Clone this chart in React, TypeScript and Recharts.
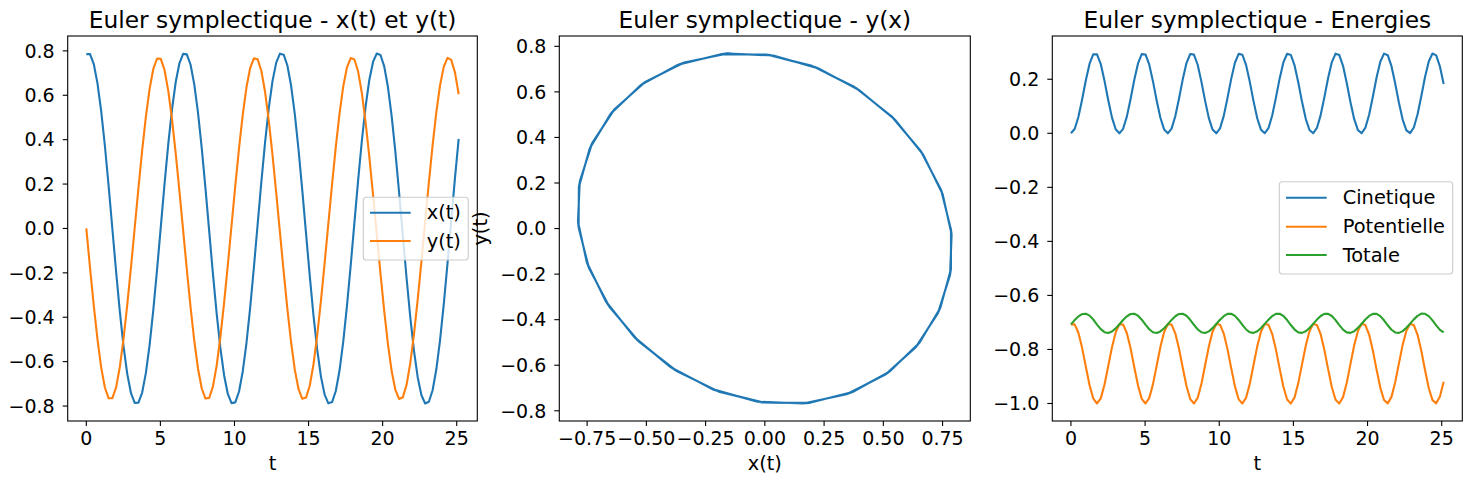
import { LineChart, Line, XAxis, YAxis } from "recharts";

const FONT = "DejaVu Sans";
const BLUE = "#1f77b4";
const ORANGE = "#ff7f0e";
const GREEN = "#2ca02c";

// time samples
const T = [
  0, 0.2513, 0.5027, 0.754, 1.0053, 1.2566, 1.508, 1.7593, 2.0106, 2.2619,
  2.5133, 2.7646, 3.0159, 3.2673, 3.5186, 3.7699, 4.0212, 4.2726, 4.5239, 4.7752,
  5.0265, 5.2779, 5.5292, 5.7805, 6.0319, 6.2832, 6.5345, 6.7858, 7.0372, 7.2885,
  7.5398, 7.7911, 8.0425, 8.2938, 8.5451, 8.7965, 9.0478, 9.2991, 9.5504, 9.8018,
  10.0531, 10.3044, 10.5558, 10.8071, 11.0584, 11.3097, 11.5611, 11.8124, 12.0637, 12.315,
  12.5664, 12.8177, 13.069, 13.3204, 13.5717, 13.823, 14.0743, 14.3257, 14.577, 14.8283,
  15.0796, 15.331, 15.5823, 15.8336, 16.085, 16.3363, 16.5876, 16.8389, 17.0903, 17.3416,
  17.5929, 17.8442, 18.0956, 18.3469, 18.5982, 18.8496, 19.1009, 19.3522, 19.6035, 19.8549,
  20.1062, 20.3575, 20.6088, 20.8602, 21.1115, 21.3628, 21.6142, 21.8655, 22.1168, 22.3681,
  22.6195, 22.8708, 23.1221, 23.3734, 23.6248, 23.8761, 24.1274, 24.3788, 24.6301, 24.8814,
  25.1327,
];

const X = [
  0.7854, 0.7854, 0.7407, 0.6534, 0.5278, 0.3703, 0.1899, -0.0024, -0.1945, -0.3744,
  -0.5312, -0.6561, -0.7423, -0.7859, -0.7848, -0.7391, -0.6508, -0.5242, -0.3661, -0.1853,
  0.0071, 0.1991, 0.3786, 0.5347, 0.6587, 0.7439, 0.7864, 0.7842, 0.7374, 0.6481,
  0.5207, 0.3619, 0.1807, -0.0119, -0.2037, -0.3827, -0.5382, -0.6612, -0.7455, -0.7869,
  -0.7836, -0.7357, -0.6454, -0.5172, -0.3576, -0.176, 0.0167, 0.2083, 0.3869, 0.5416,
  0.6638, 0.747, 0.7874, 0.783, 0.734, 0.6427, 0.5136, 0.3534, 0.1714, -0.0214,
  -0.2129, -0.391, -0.545, -0.6663, -0.7486, -0.7878, -0.7823, -0.7323, -0.64, -0.51,
  -0.3492, -0.1667, 0.0262, 0.2175, 0.3951, 0.5484, 0.6688, 0.7501, 0.7882, 0.7816,
  0.7305, 0.6372, 0.5064, 0.3449, 0.1621, -0.031, -0.222, -0.3992, -0.5518, -0.6713,
  -0.7515, -0.7886, -0.7809, -0.7287, -0.6344, -0.5027, -0.3406, -0.1573, 0.0359, 0.2267,
  0.4034,
];

const Y = [
  0.0, -0.1777, -0.3473, -0.5001, -0.6267, -0.7176, -0.7651, -0.7645, -0.7159, -0.624,
  -0.4966, -0.3433, -0.1734, 0.0044, 0.182, 0.3513, 0.5036, 0.6294, 0.7193, 0.7656,
  0.7638, 0.7141, 0.6212, 0.4931, 0.3393, 0.1691, -0.0088, -0.1863, -0.3553, -0.507,
  -0.632, -0.721, -0.7662, -0.7632, -0.7123, -0.6185, -0.4896, -0.3353, -0.1648, 0.0132,
  0.1906, 0.3592, 0.5104, 0.6347, 0.7227, 0.7667, 0.7625, 0.7105, 0.6157, 0.4861,
  0.3313, 0.1605, -0.0176, -0.1948, -0.3632, -0.5138, -0.6373, -0.7243, -0.7672, -0.7618,
  -0.7087, -0.6129, -0.4826, -0.3272, -0.1562, 0.022, 0.1991, 0.3671, 0.5172, 0.6399,
  0.7259, 0.7676, 0.761, 0.7068, 0.6101, 0.479, 0.3232, 0.1519, -0.0263, -0.2034,
  -0.3711, -0.5206, -0.6425, -0.7275, -0.768, -0.7603, -0.7049, -0.6072, -0.4755, -0.3191,
  -0.1476, 0.0307, 0.2076, 0.375, 0.5241, 0.6452, 0.7292, 0.7685, 0.7595, 0.703,
  0.6044,
];

const CINETIQUE = [
  0.0, 0.0158, 0.0603, 0.1251, 0.1964, 0.2575, 0.2927, 0.2922, 0.2562, 0.1947,
  0.1233, 0.0589, 0.015, 0.0, 0.0166, 0.0617, 0.1268, 0.198, 0.2587, 0.2931,
  0.2917, 0.255, 0.193, 0.1216, 0.0576, 0.0143, 0.0, 0.0174, 0.0631, 0.1285,
  0.1997, 0.2599, 0.2935, 0.2912, 0.2537, 0.1912, 0.1199, 0.0562, 0.0136, 0.0001,
  0.0182, 0.0645, 0.1303, 0.2014, 0.2611, 0.2939, 0.2907, 0.2524, 0.1895, 0.1182,
  0.0549, 0.0129, 0.0002, 0.019, 0.066, 0.132, 0.2031, 0.2623, 0.2943, 0.2901,
  0.2511, 0.1878, 0.1164, 0.0535, 0.0122, 0.0002, 0.0198, 0.0674, 0.1338, 0.2047,
  0.2635, 0.2946, 0.2896, 0.2498, 0.1861, 0.1147, 0.0522, 0.0115, 0.0003, 0.0207,
  0.0688, 0.1355, 0.2064, 0.2646, 0.2949, 0.289, 0.2484, 0.1844, 0.113, 0.0509,
  0.0109, 0.0005, 0.0216, 0.0703, 0.1374, 0.2082, 0.2658, 0.2953, 0.2884, 0.2471,
  0.1826,
];

const POTENTIELLE = [
  -0.7071, -0.7071, -0.738, -0.794, -0.8639, -0.9322, -0.982, -1.0, -0.9811, -0.9307,
  -0.8622, -0.7924, -0.7369, -0.7067, -0.7075, -0.7391, -0.7956, -0.8657, -0.9337, -0.9829,
  -1.0, -0.9802, -0.9292, -0.8604, -0.7908, -0.7358, -0.7064, -0.7079, -0.7402, -0.7972,
  -0.8675, -0.9352, -0.9837, -0.9999, -0.9793, -0.9276, -0.8586, -0.7892, -0.7347, -0.706,
  -0.7084, -0.7413, -0.7988, -0.8692, -0.9367, -0.9846, -0.9999, -0.9784, -0.9261, -0.8569,
  -0.7877, -0.7337, -0.7057, -0.7088, -0.7425, -0.8005, -0.871, -0.9382, -0.9854, -0.9998,
  -0.9774, -0.9245, -0.8551, -0.7861, -0.7327, -0.7054, -0.7093, -0.7437, -0.8021, -0.8727,
  -0.9397, -0.9861, -0.9997, -0.9764, -0.923, -0.8533, -0.7846, -0.7317, -0.7051, -0.7098,
  -0.7449, -0.8038, -0.8745, -0.9411, -0.9869, -0.9995, -0.9755, -0.9214, -0.8516, -0.783,
  -0.7307, -0.7048, -0.7103, -0.746, -0.8049, -0.8763, -0.9426, -0.9877, -0.9994, -0.9744,
  -0.9197,
];

const TOTALE = [
  -0.7071, -0.6913, -0.6777, -0.6689, -0.6676, -0.6747, -0.6894, -0.7078, -0.7249, -0.736,
  -0.7389, -0.7335, -0.7219, -0.7067, -0.6909, -0.6774, -0.6688, -0.6677, -0.675, -0.6898,
  -0.7083, -0.7253, -0.7362, -0.7388, -0.7332, -0.7215, -0.7063, -0.6906, -0.6771, -0.6687,
  -0.6677, -0.6753, -0.6902, -0.7087, -0.7256, -0.7364, -0.7388, -0.733, -0.7211, -0.7059,
  -0.6902, -0.6768, -0.6685, -0.6678, -0.6756, -0.6907, -0.7092, -0.726, -0.7366, -0.7387,
  -0.7328, -0.7208, -0.7055, -0.6898, -0.6765, -0.6684, -0.6679, -0.6759, -0.6911, -0.7096,
  -0.7263, -0.7367, -0.7387, -0.7326, -0.7205, -0.7052, -0.6895, -0.6763, -0.6683, -0.668,
  -0.6762, -0.6915, -0.7101, -0.7267, -0.7368, -0.7386, -0.7324, -0.7201, -0.7048, -0.6891,
  -0.676, -0.6682, -0.6681, -0.6765, -0.692, -0.7105, -0.727, -0.737, -0.7385, -0.7321,
  -0.7198, -0.7044, -0.6887, -0.6757, -0.6675, -0.6681, -0.6768, -0.6923, -0.711, -0.7273,
  -0.7371,
];

// tick values
const T_TICKS = [0, 5, 10, 15, 20, 25];
const XY_TICKS = [-0.8, -0.6, -0.4, -0.2, 0, 0.2, 0.4, 0.6, 0.8];
const PHASE_X_TICKS = [-0.75, -0.5, -0.25, 0, 0.25, 0.5, 0.75];
const ENERGY_TICKS = [-1.0, -0.8, -0.6, -0.4, -0.2, 0, 0.2];

const rows = T.map((t, i) => ({
  t,
  x: X[i],
  y: Y[i],
  ec: CINETIQUE[i],
  ep: POTENTIELLE[i],
  et: TOTALE[i],
}));

const fmt = (digits: number) => (v: number) => v.toFixed(digits).replace("-", "\u2212");

const FIG_W = 1471;
const FIG_H = 484;
const TOP = 36;
const BOTTOM = 421;
const X_AXIS_H = 30;

// slice left/right and plot-area left/right, px
const P1 = { sl: 0, sr: 490, pl: 67.7, pr: 477.3 };
const P2 = { sl: 490, sr: 980, pl: 559.3, pr: 970.3 };
const P3 = { sl: 980, sr: 1471, pl: 1052.3, pr: 1462.3 };

const tickStyle = { fill: "#000", fontSize: 19, fontFamily: FONT };
const tickLine = { stroke: "#000", strokeWidth: 1.1 };

const margin = (p: typeof P1) => ({
  top: TOP,
  right: p.sr - p.pr,
  bottom: FIG_H - BOTTOM - X_AXIS_H,
  left: 0,
});

const xAxisProps = {
  type: "number" as const,
  axisLine: false,
  tickLine,
  tickSize: 5,
  tickMargin: 6,
  tick: tickStyle,
  height: X_AXIS_H,
  interval: 0 as const,
  allowDataOverflow: true,
};

const yAxisProps = {
  type: "number" as const,
  axisLine: false,
  tickLine,
  tickSize: 5,
  tickMargin: 8,
  tick: tickStyle,
  interval: 0 as const,
  allowDataOverflow: true,
};

const lineProps = {
  type: "linear" as const,
  dot: false,
  activeDot: false,
  strokeWidth: 2.1,
  strokeLinejoin: "round" as const,
  isAnimationActive: false,
};

function LegendBox({
  x,
  y,
  w,
  h,
  items,
}: {
  x: number;
  y: number;
  w: number;
  h: number;
  items: { label: string; color: string; dy: number }[];
}) {
  return (
    <g>
      <rect x={x} y={y} width={w} height={h} rx={3} fill="#fff" fillOpacity={0.8} stroke="#cccccc" strokeWidth={1.1} />
      {items.map((it) => (
        <g key={it.label}>
          <line x1={x + 6.7} x2={x + 47.4} y1={y + it.dy} y2={y + it.dy} stroke={it.color} strokeWidth={2.1} />
          <text x={x + 63.4} y={y + it.dy} dominantBaseline="central" fontSize={19.4} fontFamily={FONT} fill="#000">
            {it.label}
          </text>
        </g>
      ))}
    </g>
  );
}

export default function App() {
  const titleY = 28;
  const labelY = 470;
  const frame = (p: typeof P1) => (
    <rect x={p.pl} y={TOP} width={p.pr - p.pl} height={BOTTOM - TOP} fill="none" stroke="#000" strokeWidth={1.1} />
  );
  return (
    <div style={{ position: "absolute", left: 0, top: 0, width: FIG_W, height: FIG_H, background: "#fff" }}>
      <div style={{ position: "absolute", left: P1.sl, top: 0 }}>
        <LineChart width={P1.sr - P1.sl} height={FIG_H} data={rows} margin={margin(P1)}>
          <XAxis {...xAxisProps} dataKey="t" domain={[-1.2566, 26.3894]} ticks={T_TICKS} tickFormatter={fmt(0)} />
          <YAxis {...yAxisProps} width={P1.pl - P1.sl} domain={[-0.8674, 0.867]} ticks={XY_TICKS} tickFormatter={fmt(1)} />
          <Line {...lineProps} dataKey="x" stroke={BLUE} />
          <Line {...lineProps} dataKey="y" stroke={ORANGE} />
        </LineChart>
      </div>
      <div style={{ position: "absolute", left: P2.sl, top: 0 }}>
        <LineChart width={P2.sr - P2.sl} height={FIG_H} data={rows} margin={margin(P2)}>
          <XAxis {...xAxisProps} dataKey="x" domain={[-0.8674, 0.867]} ticks={PHASE_X_TICKS} tickFormatter={fmt(2)} />
          <YAxis {...yAxisProps} width={P2.pl - P2.sl} domain={[-0.8448, 0.8453]} ticks={XY_TICKS} tickFormatter={fmt(1)} />
          <Line {...lineProps} dataKey="y" stroke={BLUE} />
        </LineChart>
      </div>
      <div style={{ position: "absolute", left: P3.sl, top: 0 }}>
        <LineChart width={P3.sr - P3.sl} height={FIG_H} data={rows} margin={margin(P3)}>
          <XAxis {...xAxisProps} dataKey="t" domain={[-1.2566, 26.3894]} ticks={T_TICKS} tickFormatter={fmt(0)} />
          <YAxis {...yAxisProps} width={P3.pl - P3.sl} domain={[-1.0648, 0.3601]} ticks={ENERGY_TICKS} tickFormatter={fmt(1)} />
          <Line {...lineProps} dataKey="ec" stroke={BLUE} />
          <Line {...lineProps} dataKey="ep" stroke={ORANGE} />
          <Line {...lineProps} dataKey="et" stroke={GREEN} />
        </LineChart>
      </div>
      <svg
        width={FIG_W}
        height={FIG_H}
        style={{ position: "absolute", left: 0, top: 0, pointerEvents: "none" }}
      >
        {frame(P1)}
        {frame(P2)}
        {frame(P3)}
        <g fontFamily={FONT} fill="#000" textAnchor="middle">
          <text x={(P1.pl + P1.pr) / 2} y={titleY} fontSize={23.3}>Euler symplectique - x(t) et y(t)</text>
          <text x={(P2.pl + P2.pr) / 2} y={titleY} fontSize={23.3}>Euler symplectique - y(x)</text>
          <text x={(P3.pl + P3.pr) / 2} y={titleY} fontSize={23.3}>Euler symplectique - Energies</text>
          <text x={(P1.pl + P1.pr) / 2} y={labelY} fontSize={19.4}>t</text>
          <text x={(P2.pl + P2.pr) / 2} y={labelY} fontSize={19.4}>x(t)</text>
          <text x={(P3.pl + P3.pr) / 2} y={labelY} fontSize={19.4}>t</text>
          <text x={0} y={0} fontSize={19.4} transform={`translate(${P2.pl - 72}, ${(TOP + BOTTOM) / 2}) rotate(-90)`}>
            y(t)
          </text>
        </g>
        <LegendBox
          x={363.3}
          y={197.3}
          w={105}
          h={62.7}
          items={[
            { label: "x(t)", color: BLUE, dy: 15.4 },
            { label: "y(t)", color: ORANGE, dy: 43.7 },
          ]}
        />
        <LegendBox
          x={1279.3}
          y={181.7}
          w={173.4}
          h={92.3}
          items={[
            { label: "Cinetique", color: BLUE, dy: 16 },
            { label: "Potentielle", color: ORANGE, dy: 45 },
            { label: "Totale", color: GREEN, dy: 73.3 },
          ]}
        />
      </svg>
    </div>
  );
}
